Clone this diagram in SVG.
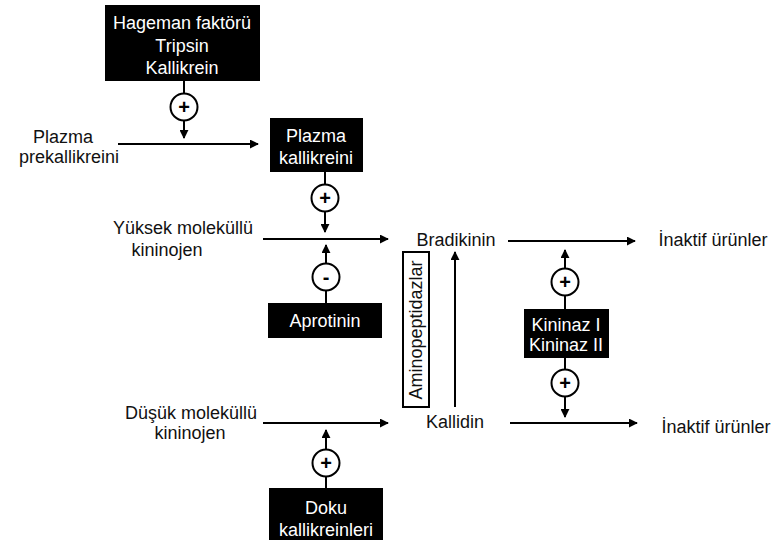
<svg xmlns="http://www.w3.org/2000/svg" width="772" height="544" viewBox="0 0 772 544">
<style>
text{font-family:"Liberation Sans",Arial,sans-serif;font-size:18px;fill:#111;text-anchor:middle}
.box{fill:#000}
.wt{fill:#fff}
.ln{stroke:#000;stroke-width:2;fill:none}
.c{fill:#fff;stroke:#000;stroke-width:2}
.sg{font-weight:bold;font-size:20px;fill:#000}
</style>
<defs>
<marker id="ah" viewBox="0 0 10 10" refX="9" refY="5" markerWidth="4.5" markerHeight="4.5" orient="auto" markerUnits="strokeWidth">
<path d="M0,0 L10,5 L0,10 z" fill="#000"/>
</marker>
</defs>
<rect width="772" height="544" fill="#fff"/>
<g id="connectors">
<line class="ln" x1="184" y1="81" x2="184" y2="93"/>
<line class="ln" x1="184" y1="120" x2="184" y2="138" marker-end="url(#ah)"/>
<line class="ln" x1="118" y1="144" x2="258" y2="144" marker-end="url(#ah)"/>
<line class="ln" x1="325" y1="172" x2="325" y2="185"/>
<line class="ln" x1="325" y1="211" x2="325" y2="232" marker-end="url(#ah)"/>
<line class="ln" x1="263" y1="239" x2="388" y2="239" marker-end="url(#ah)"/>
<line class="ln" x1="326" y1="303" x2="326" y2="290"/>
<line class="ln" x1="326" y1="264" x2="326" y2="245" marker-end="url(#ah)"/>
<line class="ln" x1="455" y1="407" x2="455" y2="252" marker-end="url(#ah)"/>
<line class="ln" x1="508" y1="241" x2="635" y2="241" marker-end="url(#ah)"/>
<line class="ln" x1="510" y1="423" x2="637" y2="423" marker-end="url(#ah)"/>
<line class="ln" x1="565" y1="309" x2="565" y2="295"/>
<line class="ln" x1="565" y1="269" x2="565" y2="250" marker-end="url(#ah)"/>
<line class="ln" x1="565" y1="358" x2="565" y2="370"/>
<line class="ln" x1="565" y1="396" x2="565" y2="417" marker-end="url(#ah)"/>
<line class="ln" x1="263" y1="423" x2="388" y2="423" marker-end="url(#ah)"/>
<line class="ln" x1="326" y1="488" x2="326" y2="476"/>
<line class="ln" x1="326" y1="450" x2="326" y2="430" marker-end="url(#ah)"/>
</g>
<g id="signs">
<circle class="c" cx="184" cy="107" r="13.5"/><text class="sg" x="184" y="114">+</text>
<circle class="c" cx="325" cy="198" r="13.5"/><text class="sg" x="325" y="205">+</text>
<circle class="c" cx="326" cy="277" r="13.5"/><text class="sg" x="326" y="284">-</text>
<circle class="c" cx="565" cy="282" r="13.5"/><text class="sg" x="565" y="289">+</text>
<circle class="c" cx="565" cy="383" r="13.5"/><text class="sg" x="565" y="390">+</text>
<circle class="c" cx="326" cy="463" r="13.5"/><text class="sg" x="326" y="470">+</text>
</g>
<g id="hageman">
<rect class="box" x="105" y="5" width="155" height="76"/>
<text class="wt" x="182" y="29">Hageman faktörü</text>
<text class="wt" x="182" y="52">Tripsin</text>
<text class="wt" x="182" y="74">Kallikrein</text>
</g>
<g id="prekallikrein">
<text x="63" y="143">Plazma</text>
<text x="69" y="163">prekallikreini</text>
</g>
<g id="plazma-kallikreini">
<rect class="box" x="270" y="118" width="93" height="54"/>
<text class="wt" x="316" y="142">Plazma</text>
<text class="wt" x="316" y="164">kallikreini</text>
</g>
<g id="yuksek">
<text x="183" y="234">Yüksek moleküllü</text>
<text x="167" y="256">kininojen</text>
</g>
<g id="aprotinin">
<rect class="box" x="268" y="303" width="114" height="35"/>
<text class="wt" x="325" y="327">Aprotinin</text>
</g>
<g id="aminopeptidazlar">
<rect x="403" y="252" width="26" height="155" fill="#fff" stroke="#000" stroke-width="2"/>
<text transform="translate(422,330) rotate(-90)" x="0" y="0">Aminopeptidazlar</text>
</g>
<g id="bradikinin">
<text x="456" y="246">Bradikinin</text>
</g>
<g id="kallidin">
<text x="455" y="428">Kallidin</text>
</g>
<g id="inaktif1">
<text x="713" y="246">İnaktif ürünler</text>
</g>
<g id="inaktif2">
<text x="716" y="433">İnaktif ürünler</text>
</g>
<g id="kininaz">
<rect class="box" x="524" y="309" width="85" height="49"/>
<text class="wt" x="566" y="331">Kininaz I</text>
<text class="wt" x="566" y="351">Kininaz II</text>
</g>
<g id="dusuk">
<text x="191" y="419">Düşük moleküllü</text>
<text x="190" y="439">kininojen</text>
</g>
<g id="doku">
<rect class="box" x="269" y="488" width="114" height="52"/>
<text class="wt" x="326" y="514">Doku</text>
<text class="wt" x="326" y="536">kallikreinleri</text>
</g>
</svg>
